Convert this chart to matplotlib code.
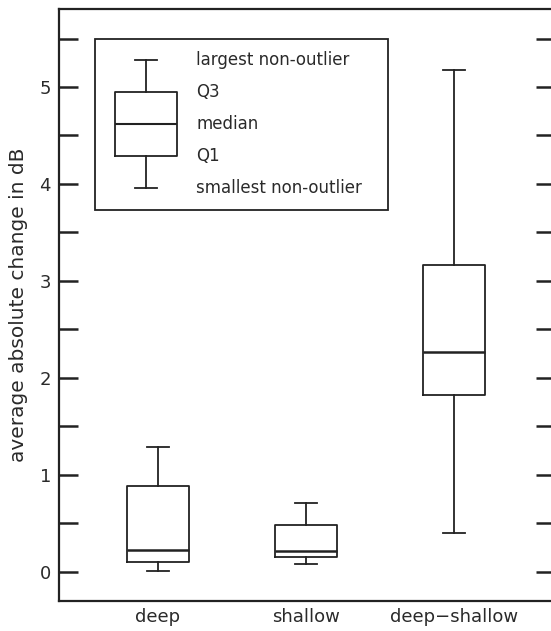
import matplotlib
matplotlib.use('Agg')
import matplotlib.pyplot as plt
from matplotlib.patches import Rectangle

# box statistics
categories = ['deep', 'shallow', 'deep\u2212shallow']
whislo = [0.01, 0.078, 0.395]
q1 = [0.099, 0.148, 1.82]
med = [0.223, 0.217, 2.266]
q3 = [0.88, 0.485, 3.164]
whishi = [1.286, 0.708, 5.177]

# key box
key_stats = [3.963, 4.29, 4.617, 4.95, 5.279]
key_labels = ['smallest non-outlier', 'Q1', 'median', 'Q3', 'largest non-outlier']

plt.rcParams['font.family'] = 'DejaVu Sans'
txt_color = '#2a2a2a'

fig = plt.figure(figsize=(5.51, 6.31), dpi=100)
ax = fig.add_axes([0.1076, 0.048, 0.900, 0.937])

lw = 1.3
props = dict(color='#222222', linewidth=lw)
stats = []
for i, c in enumerate(categories):
    stats.append(dict(label=c, whislo=whislo[i], q1=q1[i], med=med[i],
                      q3=q3[i], whishi=whishi[i], fliers=[]))
ax.bxp(stats, positions=[1, 2, 3], widths=0.42, showfliers=False,
       boxprops=props, whiskerprops=props, capprops=props,
       medianprops=dict(color='#222222', linewidth=1.8),
       capwidths=0.15, manage_ticks=False)

# legend-like key
kx = 0.919
ax.bxp([dict(whislo=key_stats[0], q1=key_stats[1], med=key_stats[2],
             q3=key_stats[3], whishi=key_stats[4], fliers=[])],
       positions=[kx], widths=0.42, showfliers=False,
       boxprops=props, whiskerprops=props, capprops=props,
       medianprops=dict(color='#222222', linewidth=1.5),
       capwidths=0.15, manage_ticks=False)
for v, t in zip(key_stats, key_labels):
    ax.text(1.258, v, t, fontsize=12, va='center', ha='left', color=txt_color)
ax.add_patch(Rectangle((0.574, 3.736), 2.554 - 0.574, 5.50 - 3.736,
                       fill=False, edgecolor='#222222', linewidth=lw))

# right spine sits just past the figure edge, as in the original
ax.set_xlim(1/3, 1/3 + 0.900 * 551 / 148)
ax.set_ylim(-0.3, 5.8)
ax.set_xticks([1, 2, 3])
ax.set_xticklabels(categories, fontsize=13, color=txt_color)
ax.tick_params(axis='x', length=0, pad=5)
ax.set_yticks([0, 1, 2, 3, 4, 5])
ax.set_yticks([0.5, 1.5, 2.5, 3.5, 4.5, 5.5], minor=True)
ax.tick_params(axis='y', which='both', direction='in', length=14, width=1.8,
               right=True, labelsize=13, pad=6, color='#222222',
               labelcolor=txt_color)
ax.set_ylabel('average absolute change in dB', fontsize=14.5, labelpad=8,
              color=txt_color)
for s in ax.spines.values():
    s.set_linewidth(1.6)
    s.set_color('#222222')

fig.savefig('out.png', dpi=100)
